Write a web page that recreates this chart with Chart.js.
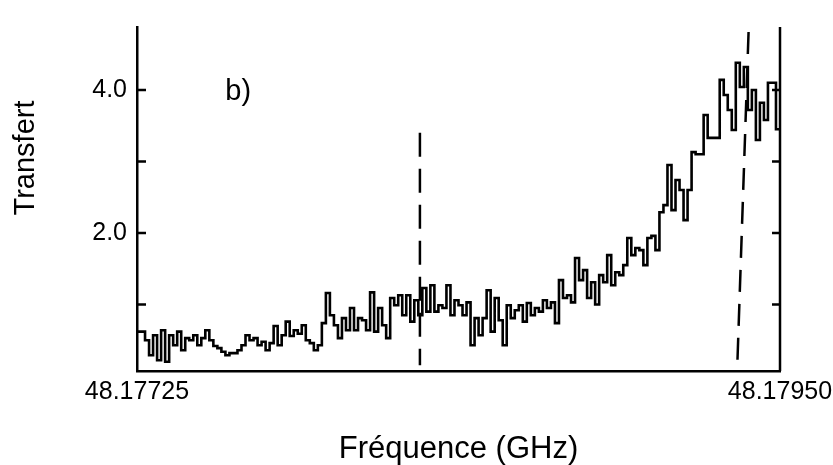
<!DOCTYPE html>
<html>
<head>
<meta charset="utf-8">
<script src="https://cdn.jsdelivr.net/npm/chart.js@4/dist/chart.umd.min.js"></script>
<style>
  html, body { margin: 0; padding: 0; background: #fff; }
  #wrap { width: 833px; height: 465px; }
</style>
</head>
<body>
<div id="wrap"><canvas id="spectre"></canvas></div>
<script>
// frequency range (GHz) and sampling of the recorded trace
const freqMin = 48.17725
const freqMax = 48.17950
const freqStep = (freqMax - freqMin) / 160

const transfert = [
  0.62, 0.62, 0.62, 0.50, 0.29, 0.57, 0.22, 0.64, 0.20, 0.57,
  0.43, 0.62, 0.36, 0.53, 0.50, 0.57, 0.43, 0.53, 0.64, 0.50,
  0.42, 0.39, 0.34, 0.29, 0.32, 0.32, 0.36, 0.43, 0.57, 0.50,
  0.53, 0.43, 0.48, 0.36, 0.46, 0.70, 0.43, 0.57, 0.76, 0.56,
  0.64, 0.59, 0.71, 0.50, 0.46, 0.36, 0.43, 0.74, 1.16, 0.85,
  0.71, 0.53, 0.81, 0.64, 0.95, 0.64, 0.81, 0.78, 0.64, 1.17,
  0.62, 0.95, 0.71, 0.53, 1.09, 0.99, 1.13, 0.85, 1.13, 0.76,
  1.06, 0.85, 1.23, 0.90, 1.27, 0.90, 0.99, 0.95, 1.27, 0.85,
  1.06, 0.99, 0.85, 1.03, 0.43, 0.81, 0.57, 0.81, 1.20, 0.62,
  1.09, 0.78, 0.43, 0.99, 0.81, 0.92, 0.99, 0.76, 1.02, 0.85,
  0.95, 0.90, 1.06, 0.95, 1.03, 0.74, 1.34, 1.09, 1.13, 1.03,
  1.65, 1.34, 1.48, 1.09, 1.31, 1.00, 1.41, 1.31, 1.69, 1.27,
  1.45, 1.41, 1.55, 1.93, 1.69, 1.79, 1.76, 1.55, 1.93, 1.96,
  1.76, 2.29, 2.39, 2.95, 2.32, 2.74, 2.60, 2.18, 2.60, 3.13,
  3.10, 3.10, 3.65, 3.33, 3.33, 3.33, 4.14, 3.93, 3.72, 3.44,
  4.38, 4.04, 4.32, 3.72, 4.00, 3.30, 3.82, 3.58, 4.10, 4.10,
  3.45
]

// dashed marker lines (frequency, transfer) at both ends
const raie1X = [48.17824, 48.17824]
const raie1Y = [3.40, 0.15]
const raie2X = [48.17939, 48.17935]
const raie2Y = [4.81, 0.08]

// y axis
const yMin = 0.07
const yMax = 4.88
const yTicks = [1, 2, 3, 4]
const yLabels = [2, 4]

const police = '"Liberation Sans", Arial, sans-serif'

const trace = transfert.map((v, i) => ({ x: freqMin + i * freqStep, y: v }))
const pairs = (xs, ys) => xs.map((x, i) => ({ x: x, y: ys[i] }))

// frame on the right, inward tick marks, "b)" and the y title
const cadre = {
    id: 'cadre',
    afterDraw(chart) {
        const { ctx, chartArea: a, scales } = chart
        ctx.save()
        ctx.strokeStyle = '#000'
        ctx.lineWidth = 2.5
        ctx.beginPath()
        ctx.moveTo(a.right, a.top)
        ctx.lineTo(a.right, a.bottom)
        yTicks.forEach(t => {
            const py = scales.y.getPixelForValue(t)
            ctx.moveTo(a.left, py)
            ctx.lineTo(a.left + 9, py)
            ctx.moveTo(a.right, py)
            ctx.lineTo(a.right - 8, py)
        })
        ctx.stroke()

        ctx.fillStyle = '#000'
        ctx.font = '29px ' + police
        ctx.textAlign = 'center'
        ctx.textBaseline = 'middle'
        ctx.fillText('b)', scales.x.getPixelForValue(48.177604), scales.y.getPixelForValue(3.97))

        ctx.translate(26, 158)
        ctx.rotate(-Math.PI / 2)
        ctx.font = '29px ' + police
        ctx.fillText('Transfert', 0, 0)
        ctx.restore()
    }
}

new Chart(document.getElementById('spectre'), {
    type: 'line',
    data: {
        datasets: [
            {
                data: trace,
                stepped: 'after',
                borderColor: '#000',
                borderWidth: 2.6,
                pointRadius: 0,
                fill: false
            },
            {
                data: pairs(raie1X, raie1Y),
                borderColor: '#000',
                borderWidth: 2.5,
                borderDash: [24, 12],
                pointRadius: 0
            },
            {
                data: pairs(raie2X, raie2Y),
                borderColor: '#000',
                borderWidth: 2.5,
                borderDash: [22, 12],
                pointRadius: 0
            }
        ]
    },
    options: {
        responsive: true,
        maintainAspectRatio: false,
        animation: false,
        layout: { padding: { top: 27, right: 53, left: 0, bottom: 0 } },
        plugins: { legend: { display: false }, tooltip: { enabled: false } },
        scales: {
            x: {
                type: 'linear',
                min: freqMin,
                max: freqMax,
                afterBuildTicks: s => { s.ticks = [{ value: freqMin }, { value: freqMax }] },
                afterFit: s => {
                    s.height = 94
                    s.paddingLeft = 0
                    s.paddingRight = 0
                },
                grid: { display: false, drawTicks: false },
                border: { display: true, color: '#000', width: 2.5 },
                ticks: {
                    color: '#000',
                    padding: 6,
                    maxRotation: 0,
                    font: { family: police, size: 25 },
                    callback: v => v.toFixed(5)
                },
                title: {
                    display: true,
                    text: 'Fréquence (GHz)',
                    color: '#000',
                    padding: 0,
                    font: { family: police, size: 31, lineHeight: 1 }
                }
            },
            y: {
                min: yMin,
                max: yMax,
                afterBuildTicks: s => { s.ticks = yTicks.map(v => ({ value: v })) },
                afterFit: s => {
                    s.width = 137
                    s.paddingTop = 0
                    s.paddingBottom = 0
                },
                grid: { display: false, drawTicks: false },
                border: { display: true, color: '#000', width: 2.5 },
                ticks: {
                    color: '#000',
                    padding: 10,
                    font: { family: police, size: 25 },
                    callback: v => yLabels.includes(v) ? v.toFixed(1) : ''
                }
            }
        }
    },
    plugins: [cadre]
})
</script>
</body>
</html>
